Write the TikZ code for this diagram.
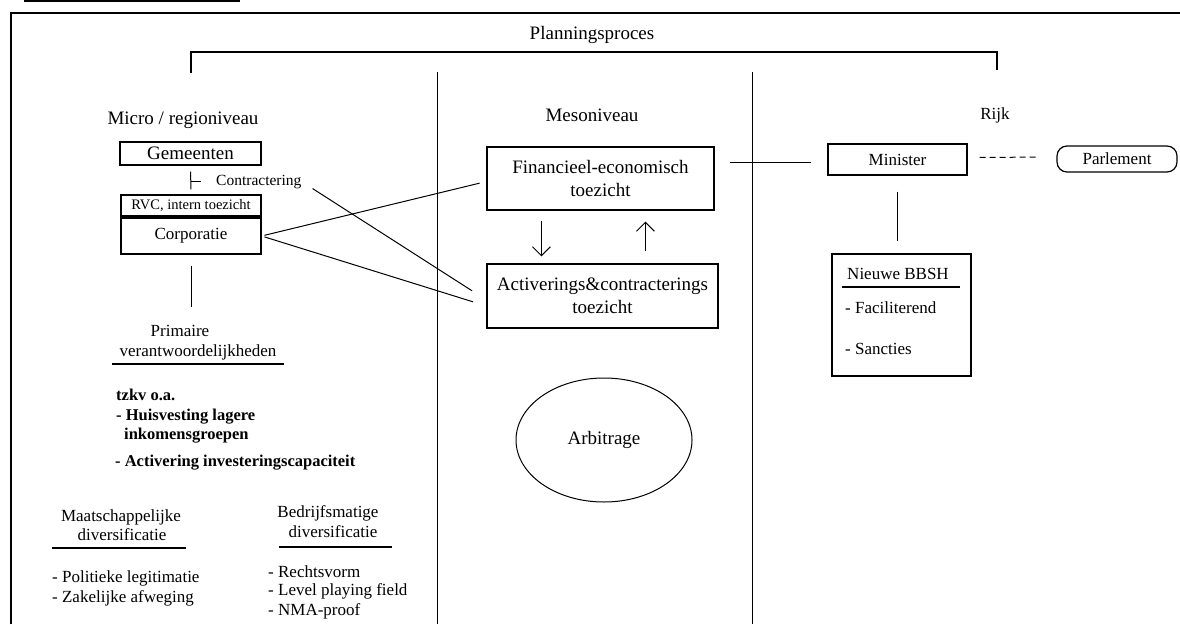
\documentclass[tikz,border=0pt]{standalone}
\usepackage{fontspec}
\setmainfont{Liberation Serif}
\usetikzlibrary{arrows.meta,shapes.geometric,calc}
\begin{document}
\begin{tikzpicture}[x=1pt,y=-1pt,
  every node/.style={inner sep=0pt},
  f19/.style={font=\fontsize{19}{23}\selectfont},
  f17/.style={font=\fontsize{17}{20}\selectfont},
  fb/.style={font=\fontsize{16.5}{20}\selectfont\bfseries},
  f15/.style={font=\fontsize{15.5}{18}\selectfont},
  f14/.style={font=\fontsize{14.5}{17}\selectfont},
  box/.style={draw, line width=1.2pt, align=center},
  frameline/.style={line width=1.5pt},
  thinline/.style={line width=1pt},
  uline/.style={line width=2.6pt},
  arr/.style={line width=1pt, -{Straight Barb[length=9pt,width=18pt]}}
]
\useasboundingbox (0,0) rectangle (1180,624);
\fill[white] (0,0) rectangle (1180,624);

% frame and bracket
\draw[frameline] (24,1) -- (240,1);
\draw[frameline] (11,624) -- (11,13) -- (1180,13);
\draw[line width=1.3pt] (191,73) -- (191,52) -- (997,52) -- (997,70);
\draw[thinline] (437,72) -- (437,624);
\draw[thinline] (752,72) -- (752,624);

% headings
\node[f19,anchor=base] (plan) at (592,39) {Planningsproces};
\node[f19,anchor=base] (micro) at (183,124) {Micro / regioniveau};
\node[f19,anchor=base] (meso) at (592,121) {Mesoniveau};
\node[f17,anchor=base] (rijk) at (995,119) {Rijk};

% micro column
\node[box,f19,minimum width=141pt,minimum height=23pt] (gem) at (190.5,153.5) {Gemeenten};
\node[f15,anchor=base west] (contr) at (216,185) {Contractering};
\node[box,f14,minimum width=140pt,minimum height=21pt] (rvc) at (191,205.5) {RVC, intern toezicht};
\node[box,f17,minimum width=140pt,minimum height=36pt] (corp) at (191,236) {Corporatie};

\node[f17,anchor=base] (prim) at (180,336) {Primaire};
\node[f17,anchor=base] (verant) at (198,356) {verantwoordelijkheden};
\draw[uline] (112,364) -- (284,364);

\node[fb,anchor=base west] (tzkv) at (116,400) {tzkv o.a.};
\node[fb,anchor=base west] (huis) at (116,420) {- Huisvesting lagere};
\node[fb,anchor=base west] (inkom) at (124,439) {inkomensgroepen};
\node[fb,anchor=base west] (activ) at (115,466) {- Activering investeringscapaciteit};

\node[f17,anchor=base] (maat) at (121,521) {Maatschappelijke};
\node[f17,anchor=base] (div1) at (122,540) {diversificatie};
\draw[uline] (52,548) -- (186,548);
\node[f17,anchor=base west] (pol) at (52,582) {- Politieke legitimatie};
\node[f17,anchor=base west] (zak) at (52,602) {- Zakelijke afweging};

\node[f17,anchor=base] (bedr) at (328,517) {Bedrijfsmatige};
\node[f17,anchor=base] (div2) at (333,537) {diversificatie};
\draw[uline] (279,547) -- (392,547);
\node[f17,anchor=base west] (rechts) at (268,577) {- Rechtsvorm};
\node[f17,anchor=base west] (level) at (268,595) {- Level playing field};
\node[f17,anchor=base west] (nma) at (268,615) {- NMA-proof};

% meso column
\node[box,f19,minimum width=227pt,minimum height=63pt] (fin) at (600.5,178.5) {Financieel-economisch\\toezicht};
\node[box,f19,minimum width=231pt,minimum height=64pt] (act) at (602.5,296) {Activerings\&contracterings\\toezicht};
\node[draw,ellipse,line width=1pt,f19,minimum width=176pt,minimum height=124pt] (arb) at (604,440) {Arbitrage};

% rijk column
\node[box,f17,minimum width=139pt,minimum height=31pt] (min) at (897.5,159.5) {Minister};
\node[box,f17,rounded corners=10pt,minimum width=120pt,minimum height=26pt] (parl) at (1117,159) {Parlement};
\node[box,minimum width=139pt,minimum height=122pt] (bbsh) at (901.5,315) {};
\node[f17,anchor=base] (nbbsh) at (898,279) {Nieuwe BBSH};
\draw[line width=1.2pt] (842,287) -- (960,287);
\node[f17,anchor=base west] (fac) at (845,313) {- Faciliterend};
\node[f17,anchor=base west] (sanc) at (845,354) {- Sancties};

% connectors
\draw[thinline,shorten <=6pt,shorten >=5pt] (gem.south) -- (rvc.north);
\coordinate (tick) at ($(gem.south)!0.55!(rvc.north)$);
\draw[thinline] (tick) -- ++(10,0);
\draw[thinline,shorten <=13pt,shorten >=17pt] (contr.east) -- ($(act.west)+(0,4)$);
\draw[thinline,shorten <=3pt,shorten >=7pt] (corp.east) -- ($(fin.west)+(0,3)$);
\draw[thinline,shorten <=3pt,shorten >=14pt] (corp.east) -- ($(act.west)+(0,10)$);
\draw[thinline,shorten <=11pt,shorten >=18pt] (corp.south) -- (corp.south |- prim.north);
\draw[arr,shorten <=10pt,shorten >=7pt] ($(fin.south west)+(55,0)$) -- ($(act.north west)+(55,0)$);
\draw[arr,shorten <=12pt,shorten >=11pt] ($(act.north west)+(159,0)$) -- ($(fin.south west)+(159,0)$);
\draw[thinline,shorten <=15pt,shorten >=16pt] ($(fin.east |- min.west)+(0,3)$) -- ($(min.west)+(0,3)$);
\draw[thinline,dash pattern=on 6pt off 4pt,shorten <=12pt,shorten >=18pt] ($(min.east)+(0,-2)$) -- ($(parl.west)+(0,-2)$);
\draw[thinline,shorten <=16pt,shorten >=12pt] (min.south) -- (min.south |- bbsh.north);
\end{tikzpicture}
\end{document}
